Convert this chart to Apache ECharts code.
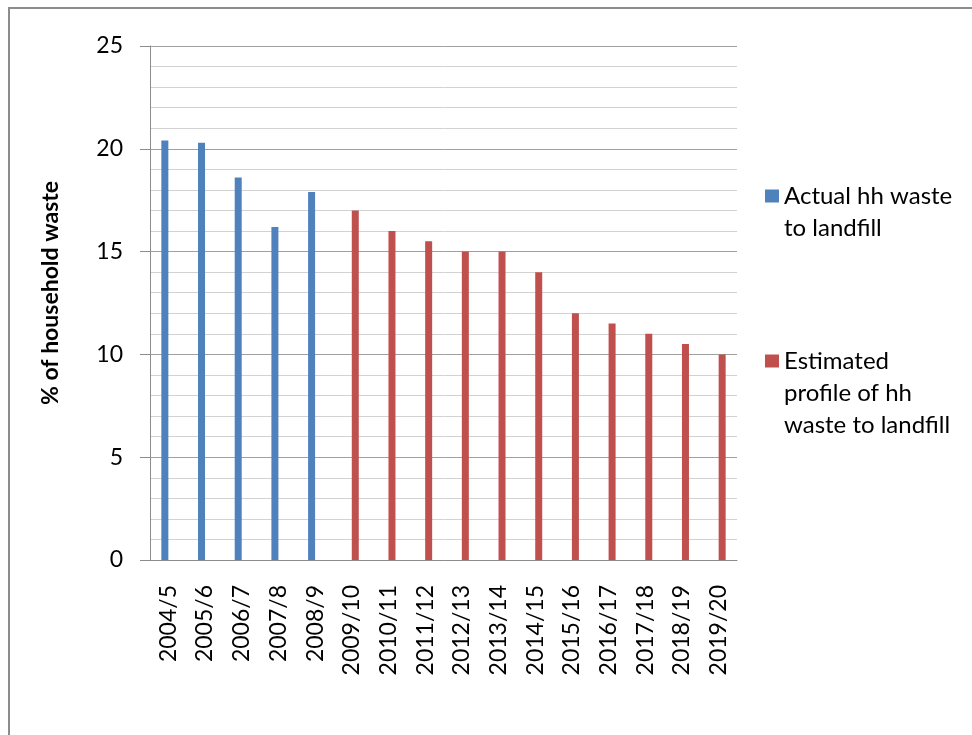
<!DOCTYPE html>
<html>
<head>
<meta charset="utf-8">
<script src="https://cdn.jsdelivr.net/npm/echarts@6/dist/echarts.min.js"></script>
<style>
  html, body { margin: 0; padding: 0; background: #fff; }
  #chart { width: 972px; height: 735px; }
</style>
</head>
<body>
<div id="chart"></div>
<script>
// Financial years on the category axis
const years = ['2004/5', '2005/6', '2006/7', '2007/8', '2008/9', '2009/10', '2010/11', '2011/12',
  '2012/13', '2013/14', '2014/15', '2015/16', '2016/17', '2017/18', '2018/19', '2019/20'];

// Recorded share of household waste sent to landfill (%)
const actual = [20.4, 20.3, 18.6, 16.2, 17.9, null, null, null, null, null, null, null, null, null, null, null];

// Projected share of household waste sent to landfill (%)
const estimated = [null, null, null, null, null, 17.0, 16.0, 15.5, 15.0, 15.0, 14.0, 12.0, 11.5, 11.0, 10.5, 10.0];

// Value axis range and label step
const yMin = 0;
const yMax = 25;
const yStep = 5;

const seriesNames = ['Actual hh waste to landfill', 'Estimated profile of hh waste to landfill'];
// Legend labels wrap over several lines; leading blank lines keep the
// swatch level with the first line of its label.
const legendText = {
  'Actual hh waste to landfill': ' \nActual hh waste\nto landfill',
  'Estimated profile of hh waste to landfill': ' \n \nEstimated\nprofile of hh\nwaste to landfill'
};

const FONT = 'Lato';
const chart = echarts.init(document.getElementById('chart'), null, { renderer: 'canvas' });

chart.setOption({
  backgroundColor: '#ffffff',
  animation: false,
  graphic: [{
    type: 'rect',
    shape: { x: 9, y: 8, width: 1100, height: 900 },
    style: { fill: 'none', stroke: '#8c8c8c', lineWidth: 2 },
    silent: true
  }],
  grid: { left: 150, right: 235, top: 46, bottom: 175 },
  legend: {
    orient: 'vertical',
    left: 760,
    top: 143,
    itemWidth: 14,
    itemHeight: 13,
    itemGap: 37,
    icon: 'rect',
    symbolKeepAspect: false,
    textStyle: { fontFamily: FONT, fontSize: 24, lineHeight: 32, color: '#000' },
    formatter: name => legendText[name],
    data: seriesNames
  },
  xAxis: {
    type: 'category',
    data: years,
    boundaryGap: true,
    axisLine: { lineStyle: { color: '#8c8c8c', width: 1 } },
    axisTick: { show: false },
    axisLabel: { rotate: 90, margin: 25, fontFamily: FONT, fontSize: 23, color: '#000', interval: 0 }
  },
  yAxis: {
    type: 'value',
    min: yMin,
    max: yMax,
    interval: yStep,
    name: '% of household waste',
    nameLocation: 'middle',
    nameRotate: 90,
    nameGap: 88,
    nameTextStyle: { fontFamily: FONT, fontSize: 23, fontWeight: 'bold', color: '#000', padding: [0, 0, 0, 20] },
    axisLine: { show: true, lineStyle: { color: '#8c8c8c', width: 1 } },
    axisTick: { show: true, length: 10, lineStyle: { color: '#8c8c8c' } },
    axisLabel: { margin: 27, fontFamily: FONT, fontSize: 23, color: '#000' },
    splitLine: { show: true, lineStyle: { color: '#a0a0a0', width: 1 } },
    minorTick: { show: false, splitNumber: 5 },
    minorSplitLine: { show: true, lineStyle: { color: '#d2d2d2', width: 1 } }
  },
  series: [
    {
      name: seriesNames[0],
      type: 'bar',
      data: actual,
      barWidth: 7,
      barGap: '0%',
      itemStyle: { color: '#4f81bd' }
    },
    {
      name: seriesNames[1],
      type: 'bar',
      data: estimated,
      barWidth: 7,
      barGap: '0%',
      itemStyle: { color: '#c0504d' }
    }
  ]
});
</script>
</body>
</html>
